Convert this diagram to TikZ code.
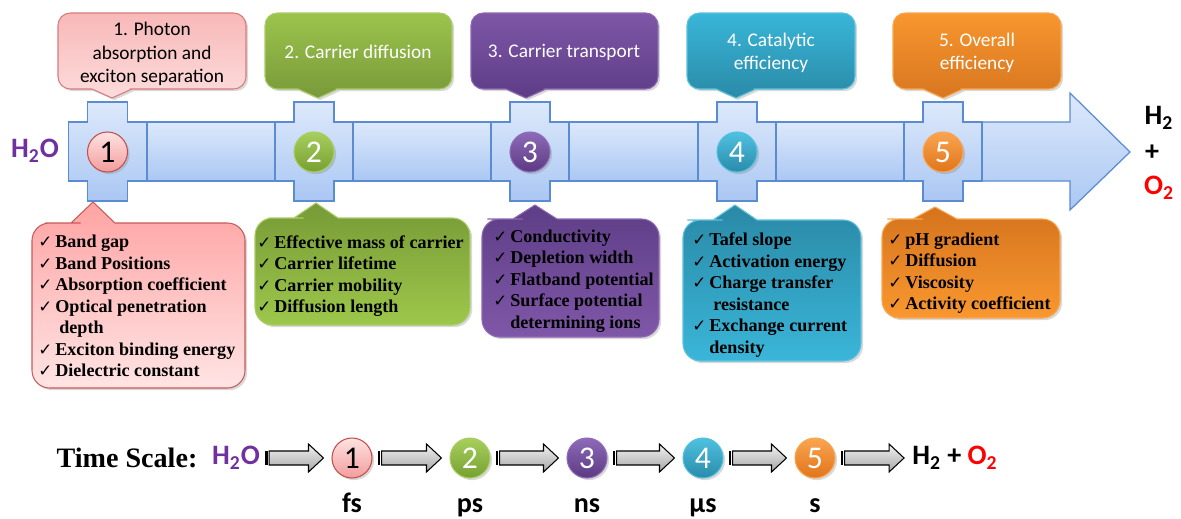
\documentclass[tikz,border=0pt]{standalone}
\usepackage{fontspec}
\setmainfont{Liberation Serif}
\newfontfamily\calfont{Carlito}
\newfontfamily\ckfont{DejaVu Sans}
\usetikzlibrary{shadows}
\newdimen\pxu
\pxu=0.02cm
% shaft
\definecolor{bartop}{HTML}{DDE9FB}
\definecolor{barbot}{HTML}{AAC7F3}
\definecolor{barline}{HTML}{5B8BD0}
% top callouts
\definecolor{s1t}{HTML}{F8B8B8}\definecolor{s1b}{HTML}{FDDCDC}\definecolor{s1d}{HTML}{D77B7B}
\definecolor{s2t}{HTML}{9CC44C}\definecolor{s2b}{HTML}{78993A}\definecolor{s2d}{HTML}{A9CC66}
\definecolor{s3t}{HTML}{7E57A7}\definecolor{s3b}{HTML}{5D3C86}\definecolor{s3d}{HTML}{8C68B2}
\definecolor{s4t}{HTML}{39B6D8}\definecolor{s4b}{HTML}{2A8AA7}\definecolor{s4d}{HTML}{5CC2DE}
\definecolor{s5t}{HTML}{F8962F}\definecolor{s5b}{HTML}{D7761F}\definecolor{s5d}{HTML}{F9A650}
% list boxes
\definecolor{l1t}{HTML}{FFA3A3}\definecolor{l1b}{HTML}{FFE4E4}\definecolor{l1d}{HTML}{C85A5A}
\definecolor{l2t}{HTML}{779A36}\definecolor{l2b}{HTML}{9DC74B}\definecolor{l2d}{HTML}{A9CC66}
\definecolor{l3t}{HTML}{5E3E87}\definecolor{l3b}{HTML}{7F57A8}\definecolor{l3d}{HTML}{8C68B2}
\definecolor{l4t}{HTML}{2A89A6}\definecolor{l4b}{HTML}{3AB6D9}\definecolor{l4d}{HTML}{5CC2DE}
\definecolor{l5t}{HTML}{D5731E}\definecolor{l5b}{HTML}{F9982F}\definecolor{l5d}{HTML}{F9A650}
% balls
\definecolor{c1t}{HTML}{FFE2E2}\definecolor{c1b}{HTML}{F29C9C}\definecolor{c1d}{HTML}{C0504D}
\definecolor{c2t}{HTML}{A8CF5E}\definecolor{c2b}{HTML}{76A031}\definecolor{c2d}{HTML}{A8CF5E}
\definecolor{c3t}{HTML}{8E6AB8}\definecolor{c3b}{HTML}{5B3A82}\definecolor{c3d}{HTML}{8E6AB8}
\definecolor{c4t}{HTML}{4FC1E0}\definecolor{c4b}{HTML}{2A8BAA}\definecolor{c4d}{HTML}{4FC1E0}
\definecolor{c5t}{HTML}{FAA550}\definecolor{c5b}{HTML}{E0751A}\definecolor{c5d}{HTML}{FAA550}
\definecolor{wpurple}{HTML}{7030A0}
\newcommand\ck{{\ckfont\fontsize{9.5}{9.5}\selectfont ✓}}
\newcommand\ckl{\makebox[17\pxu][l]{\ck}}
\tikzset{
  bar/.style={draw=barline,line width=0.7pt,top color=bartop,bottom color=barbot},
  shd/.style={drop shadow={opacity=0.3,shadow xshift=1.2pt,shadow yshift=-1.2pt}},
  callbg/.style={shd,line width=0.6pt},
  lstbg/.style={shd,line width=0.6pt},
  calltxt/.style={font=\calfont\fontsize{11}{13.4}\selectfont,align=center,text=white,inner sep=0pt},
  lsttxt/.style={font=\rmfamily\bfseries\fontsize{10.3}{12.2}\selectfont,align=left,anchor=west,inner sep=0pt},
  numball/.style={circle,minimum size=40\pxu,inner sep=0pt,line width=0.6pt,shd,font=\calfont\fontsize{18}{18}\selectfont},
  chem/.style={font=\calfont\bfseries\fontsize{16}{18}\selectfont,inner sep=0pt},
  tlab/.style={font=\calfont\bfseries\fontsize{16}{18}\selectfont,anchor=base,inner sep=0pt},
  tsarrow/.style={draw=black,line width=0.6pt,top color=black!5,bottom color=black!35},
}
\begin{document}
\begin{tikzpicture}[x=\pxu,y=-\pxu]
  \useasboundingbox (0,0) rectangle (1181,518);
  % shaft
  \foreach \xa/\xb in {147/275,353/491,569/698,776/904}
    \draw[bar] (\xa,122) rectangle (\xb,181);
  \draw[bar] (982,122) -- (1070,122) -- (1070,93) -- (1130,152) -- (1070,210) -- (1070,181) -- (982,181) -- cycle;
  \foreach \c in {107.5,314,530,737,943}
    \draw[bar] (\c-39,122) -- (\c-20,122) -- (\c-20,102) -- (\c+20,102) -- (\c+20,122) -- (\c+39,122)
      -- (\c+39,181) -- (\c+20,181) -- (\c+20,201) -- (\c-20,201) -- (\c-20,181) -- (\c-39,181) -- cycle;
  % callouts above
  \foreach \i/\xa/\xb/\tx in {1/58/246/112,2/265/452/318,3/471/658/526,4/687/855/736,5/893/1061/943}
    \path[callbg,draw=s\i d,top color=s\i t,bottom color=s\i b]
      (\tx,98) -- (\tx-20,89) -- (\tx-30,89) [rounded corners=7pt] -- (\xa,89) -- (\xa,13) -- (\xb,13)
      -- (\xb,89) -- (\tx+30,89) [sharp corners] -- (\tx+20,89) -- cycle;
  % boxes below
  \foreach \i/\xa/\xb/\ya/\yb/\tx/\ty in {1/32/245/223/388/93/202,2/255/470/218/325/316/203,3/482/659/219/337/535/205,4/683/861/220/361/735/205,5/882/1060/219/318/935/207}
    \path[lstbg,draw=l\i d,top color=l\i t,bottom color=l\i b]
      (\tx,\ty) -- (\tx+22,\ya) -- (\tx+30,\ya) [rounded corners=10pt] -- (\xb,\ya) -- (\xb,\yb) -- (\xa,\yb)
      -- (\xa,\ya) -- (\tx-30,\ya) [sharp corners] -- (\tx-22,\ya) -- cycle;
  \node[calltxt,text=black] (h1) at (152,54) {1. Photon\\absorption and\\exciton separation};
  \node[calltxt] (h2) at (358,52) {2. Carrier diffusion};
  \node[calltxt] (h3) at (564,52) {3. Carrier transport};
  \node[calltxt] (h4) at (771,53) {4. Catalytic\\efficiency};
  \node[calltxt] (h5) at (977,53) {5. Overall\\efficiency};
  \node[lsttxt] (p1) at (38,306) {\ckl Band gap\\\ckl Band Positions\\\ckl Absorption coefficient\\\ckl Optical penetration\\\hspace*{21\pxu}depth\\\ckl Exciton binding energy\\\ckl Dielectric constant};
  \node[lsttxt] (p2) at (257,276) {\ckl Effective mass of carrier\\\ckl Carrier lifetime\\\ckl Carrier mobility\\\ckl Diffusion length};
  \node[lsttxt] (p3) at (493,281) {\ckl Conductivity\\\ckl Depletion width\\\ckl Flatband potential\\\ckl Surface potential\\\hspace*{17\pxu}determining ions};
  \node[lsttxt] (p4) at (692,295) {\ckl Tafel slope\\\ckl Activation energy\\\ckl Charge transfer\\\hspace*{21\pxu}resistance\\\ckl Exchange current\\\hspace*{17\pxu}density};
  \node[lsttxt] (p5) at (888,273) {\ckl pH gradient\\\ckl Diffusion\\\ckl Viscosity\\\ckl Activity coefficient};
  % stage balls
  \foreach \i/\c/\tc in {1/107.5/black,2/314/white,3/530/white,4/737/white,5/943/white}
    \node[numball,top color=c\i t,bottom color=c\i b,draw=c\i d,text=\tc] (n\i) at (\c,152) {\i};
  \node[chem,text=wpurple] (tH) at (35,151) {H\textsubscript{2}O};
  \node[chem] (rH) at (1159,118) {H\textsubscript{2}};
  \node[chem] (rP) at (1152,153) {+};
  \node[chem,text=red] (rO) at (1159,188) {O\textsubscript{2}};
  % time scale
  \node[font=\rmfamily\bfseries\fontsize{16}{18}\selectfont,inner sep=0pt] (ts) at (127,458) {Time Scale:};
  \node[chem,text=wpurple] (bH) at (236,458) {H\textsubscript{2}O};
  \foreach \i/\c/\tc/\t in {1/352/black/fs,2/470/white/ps,3/587/white/ns,4/703/white/μs,5/815/white/s} {
    \node[numball,top color=c\i t,bottom color=c\i b,draw=c\i d,text=\tc] (m\i) at (\c,458) {\i};
    \node[tlab] (u\i) at ([yshift=-54\pxu]m\i.center) {\t};
  }
  \node[chem] (bP) at (955,458) {H\textsubscript{2} + \textcolor{red}{O\textsubscript{2}}};
  \foreach \a/\b in {bH/m1,m1/m2,m2/m3,m3/m4,m4/m5,m5/bP} {
    \draw[tsarrow] ([xshift=9\pxu,yshift=7\pxu]\a.east) -- ([xshift=-23\pxu,yshift=7\pxu]\b.west)
      -- ([xshift=-23\pxu,yshift=14\pxu]\b.west) -- ([xshift=-8\pxu]\b.west)
      -- ([xshift=-23\pxu,yshift=-14\pxu]\b.west) -- ([xshift=-23\pxu,yshift=-7\pxu]\b.west)
      -- ([xshift=9\pxu,yshift=-7\pxu]\a.east) -- cycle;
    \fill ([xshift=5\pxu,yshift=7\pxu]\a.east) rectangle ([xshift=7.5\pxu,yshift=-7\pxu]\a.east);
  }
\end{tikzpicture}
\end{document}
